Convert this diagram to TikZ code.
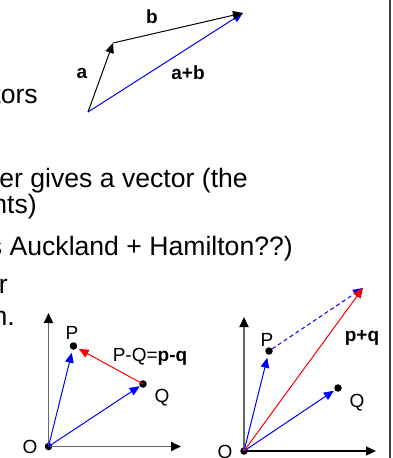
\documentclass[tikz,border=0pt]{standalone}
\usepackage{fontspec}
\setmainfont{Liberation Sans}
\usetikzlibrary{arrows.meta}
\begin{document}
\begin{tikzpicture}[x=1pt,y=-1pt,
  body/.style={font=\fontsize{26.6}{31}\selectfont, anchor=base east, inner sep=0pt},
  lbl/.style={font=\fontsize{19}{23}\selectfont, inner sep=0pt},
  blbl/.style={font=\fontsize{19}{23}\selectfont\bfseries, inner sep=0pt},
  vec/.style={line width=1pt, -{Triangle[length=10pt,width=8.5pt]}},
  axistip/.style={-{Triangle[length=10pt,width=9pt,color=black,fill=black]}},
  gaxis/.style={axistip, line width=1.8pt, draw=black!60},
  baxis/.style={axistip, line width=1.3pt, draw=black},
  dot/.style={circle, fill=black, inner sep=0pt, minimum size=7.5pt},
]
\useasboundingbox (0,0) rectangle (392,458);
\fill[white] (0,0) rectangle (392,458);
\draw[line width=1.5pt, black!75] (390,0) -- (390,458);

% body text (as visible in the cropped slide)
\node[body] (t0) at (38,103) {tors};
\node[body] (t1) at (248,187) {er gives a vector (the};
\node[body] (t2) at (37,213) {nts)};
\node[body] (t3) at (293,255) {s Auckland + Hamilton??)};
\node[body] (t4) at (8,293) {r};
\node[body] (t5) at (15,325) {n.};

% top: a + b
\coordinate (A0) at (88,112);
\coordinate (A1) at (113,43);
\coordinate (A2) at (243,13);
\draw[vec, blue] (A0) -- (A2);
\draw[vec, black] (A0) -- (A1);
\draw[vec, black] (A1) -- (A2);
\node[blbl] (la) at (82,73) {a};
\node[blbl] (lb) at (152,17) {b};
\node[blbl] (lab) at (188,73) {a+b};

% left diagram: P - Q
\node[dot] (O1) at (48.5,446.5) {};
\node[dot] (P1) at (73.5,346) {};
\node[dot] (Q1) at (143,384) {};
\coordinate (Y1) at (48.5,313);
\coordinate (X1) at (181,446.5);
\draw[gaxis] (O1.center) -- (Y1);
\draw[gaxis] (O1.center) -- (X1);
\draw[vec, blue, shorten >=3pt] (O1.center) -- (P1);
\draw[vec, blue] (O1.center) -- (Q1);
\draw[vec, red, shorten >=2pt] (Q1.center) -- (P1);
\node[lbl] (lP1) at (72,333) {P};
\node[lbl] (lQ1) at (162,398) {Q};
\node[lbl] (lO1) at (30,447) {O};
\node[lbl] (lPQ) at (150,357) {P-Q=\textbf{p-q}};

% right diagram: p + q
\node[dot] (O2) at (244,451) {};
\node[dot] (P2) at (269,351) {};
\node[dot] (Q2) at (338,388) {};
\coordinate (S2) at (363,288);
\coordinate (Y2) at (244,317);
\coordinate (X2) at (376,451);
\draw[gaxis] (O2.center) -- (Y2);
\draw[baxis] (O2.center) -- (X2);
\draw[vec, blue, dashed, dash pattern=on 4pt off 3pt] (P2) -- (S2);
\draw[vec, blue, shorten >=3pt] (O2.center) -- (P2);
\draw[vec, blue, shorten >=1pt] (O2.center) -- (Q2);
\draw[vec, red] (O2.center) -- (S2);
\node[lbl] (lP2) at (267,340) {P};
\node[lbl] (lQ2) at (357,403) {Q};
\node[lbl] (lO2) at (225,452) {O};
\node[blbl] (lpq) at (362,338) {p+q};
\end{tikzpicture}
\end{document}
